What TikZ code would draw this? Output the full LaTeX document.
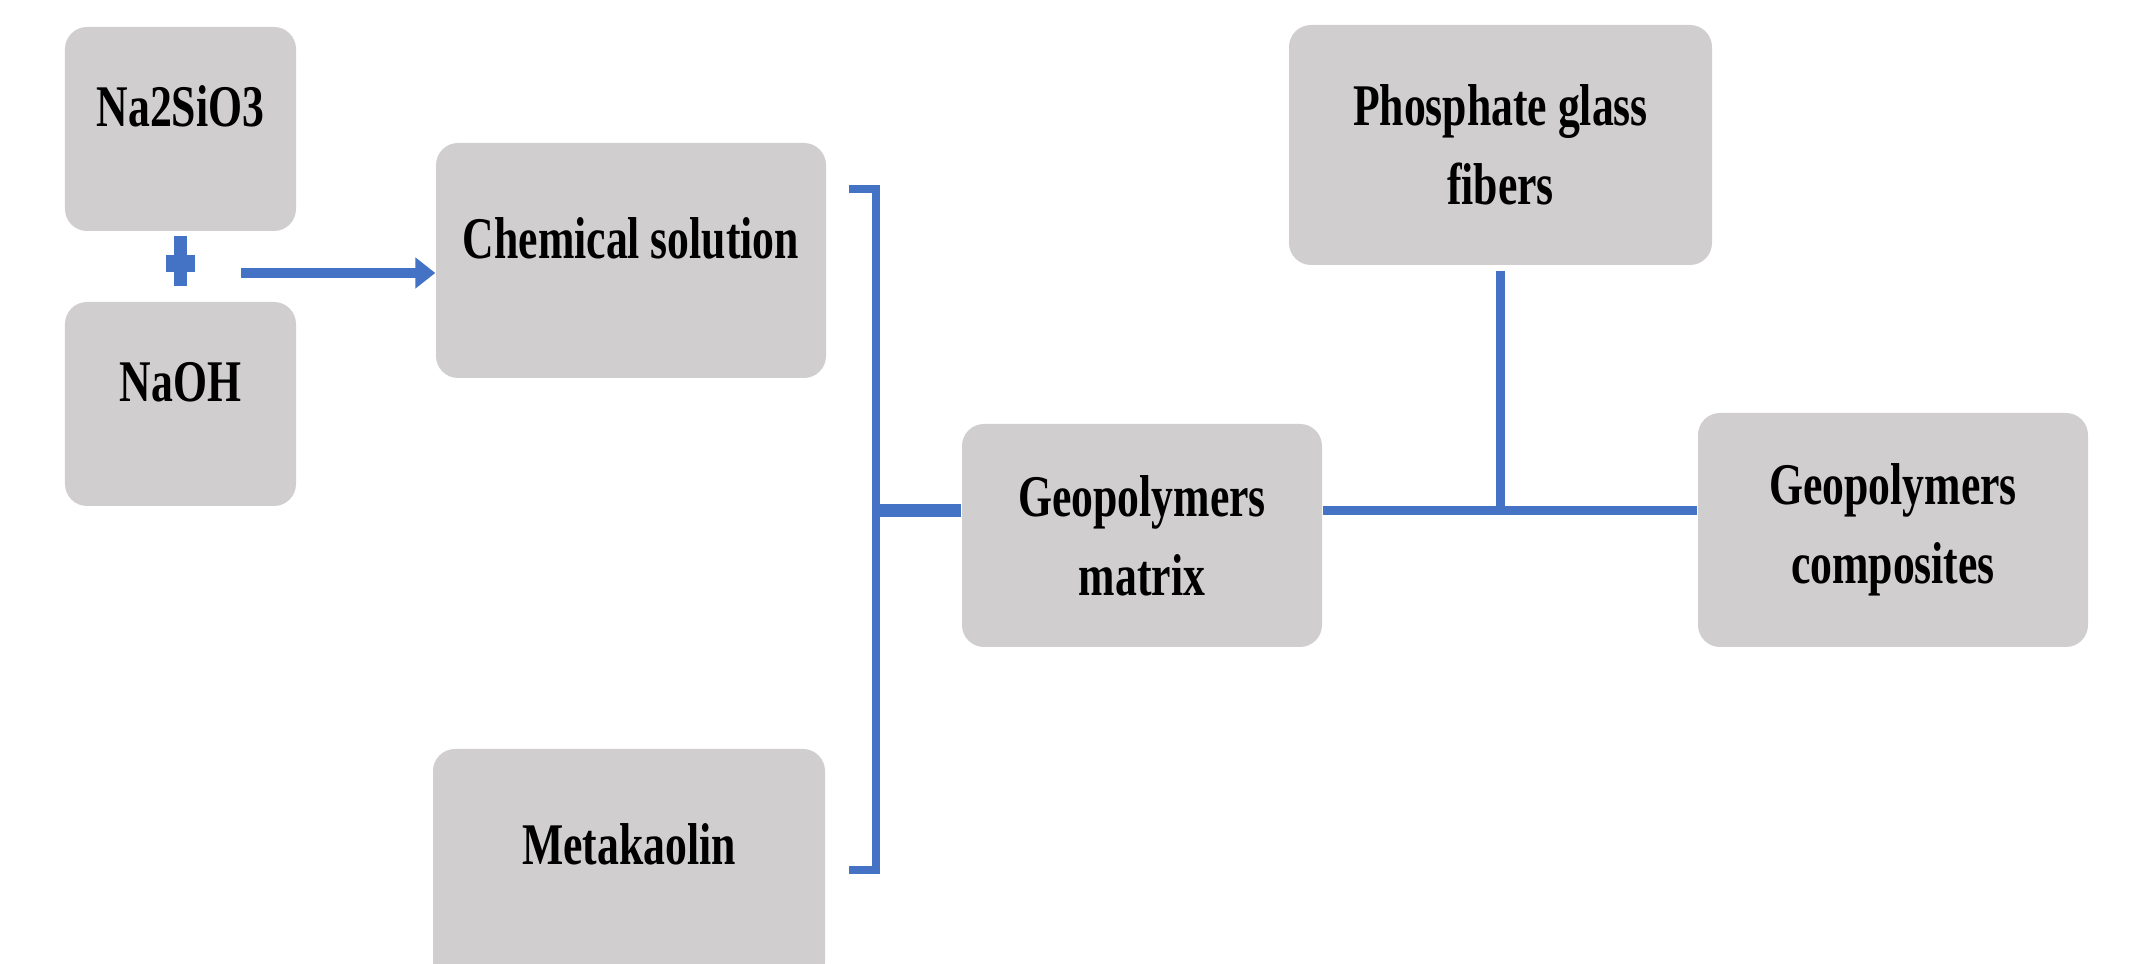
\documentclass[tikz,border=0pt]{standalone}
\usepackage{fontspec}
\setmainfont{Liberation Serif}[FakeStretch=0.74]
\usetikzlibrary{arrows.meta,positioning,calc}
\definecolor{BoxGray}{HTML}{D0CECE}
\definecolor{LinkBlue}{HTML}{4472C4}

\begin{document}
\begin{tikzpicture}[
  stage/.style={fill=BoxGray,rounded corners=0.22cm,align=center,font=\fontsize{16.8}{22.5}\selectfont\bfseries,inner sep=4pt},
  raised/.style={stage,text height=11.5pt,text depth=12.9pt},
  link/.style={draw=LinkBlue,line width=0.09cm},
  arr/.style={link,line width=0.1cm,-{Triangle[length=0.2cm,width=0.3cm]}}
]
\useasboundingbox (0,0) rectangle (21.55,9.64);
\node[raised,minimum width=2.31cm,minimum height=2.04cm] (silicate) at (1.805,8.35) {Na2SiO3};
\node[raised,minimum width=2.31cm,minimum height=2.04cm] (naoh) at (1.805,5.60) {NaOH};
\node[raised,minimum width=3.90cm,minimum height=2.35cm] (chem) at (6.31,7.035) {Chemical solution};
\node[raised,minimum width=3.92cm,minimum height=2.35cm] (meta) at (6.29,0.975) {Metakaolin};
\node[stage,minimum width=3.60cm,minimum height=2.23cm] (matrix) at (11.42,4.285) {Geopolymers\\matrix};
\node[stage,minimum width=4.23cm,minimum height=2.40cm] (fibers) at (15.005,8.19) {Phosphate glass\\fibers};
\node[stage,minimum width=3.90cm,minimum height=2.34cm] (composites) at (18.93,4.34) {Geopolymers\\composites};
% plus sign between the two reagents
\draw[link,line width=0.125cm,shorten <=0.04cm,shorten >=0.15cm] (silicate) -- (naoh);
\draw[link,line width=0.17cm] ($(silicate.south)!0.45!(naoh.north)+(-0.145,0)$) -- ++(0.29,0);
\coordinate (mix) at (2.41,6.91);
\draw[arr] (mix) -- (mix -| chem.west);
% bracket joining solution and metakaolin
\coordinate (brtop) at (8.76,7.75);
\coordinate (brbot) at (8.76,0.94);
\coordinate (matin) at ([yshift=0.25cm]matrix.west);
\draw[link,line width=0.08cm] ([xshift=-0.27cm]brtop) -- (brtop) -- (brbot) -- ([xshift=-0.27cm]brbot);
\draw[link,line width=0.125cm] (matin) -- (matin -| brtop);
% matrix + fibers
\coordinate (matout) at ([yshift=0.25cm]matrix.east);
\draw[link] (matout) -- (matout -| composites.west);
\draw[link,shorten <=0.05cm] (fibers) -- (matout -| fibers.south);
\end{tikzpicture}
\end{document}
